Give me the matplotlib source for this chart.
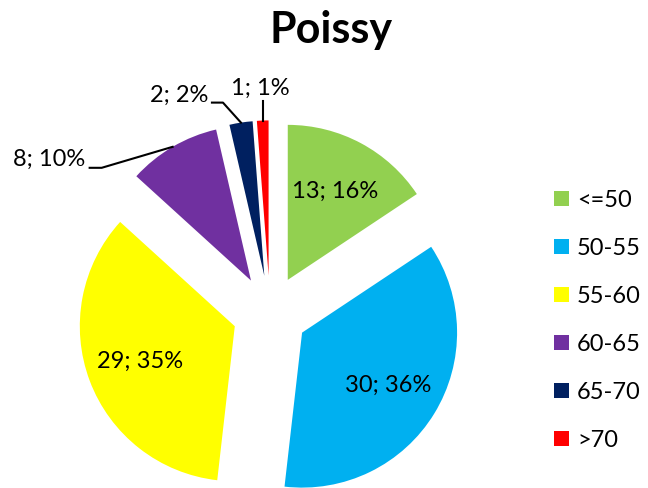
import numpy as np
import matplotlib
matplotlib.use("Agg")
import matplotlib.pyplot as plt

title = "Poissy"
categories = ["<=50", "50-55", "55-60", "60-65", "65-70", ">70"]
values = [13, 30, 29, 8, 2, 1]
colors = ["#92D050", "#00B0F0", "#FFFF00", "#7030A0", "#002060", "#FF0000"]

plt.rcParams['font.family'] = ['Lato', 'DejaVu Sans']

W, H = 648, 488
fig = plt.figure(figsize=(W / 100, H / 100), dpi=100)
ax = fig.add_axes([0, 0, 1, 1])
ax.set_xlim(0, W)
ax.set_ylim(0, H)
ax.set_aspect('equal')
ax.axis('off')

R = 155
center = (270, H - 313)
expl = 37.6
total = sum(values)
wedges, _ = ax.pie(values, colors=colors, startangle=90, counterclock=False,
                   radius=R, center=center, explode=[expl] * len(values),
                   wedgeprops=dict(linewidth=0))
ax.set_xlim(0, W)
ax.set_ylim(0, H)

labels = [f"{v}; {round(100 * v / total)}%" for v in values]
fs = 17

for i, (w, lab) in enumerate(zip(wedges, labels)):
    cx, cy = w.center
    mid = np.deg2rad((w.theta1 + w.theta2) / 2)
    if i < 3:
        d = 0.65 * R
        ax.text(cx + d * np.cos(mid), cy + d * np.sin(mid), lab, fontsize=fs,
                ha='center', va='center', color='black')
    else:
        ax_pt = (cx + R * np.cos(mid), cy + R * np.sin(mid))
        if i == 3:
            elbow = (ax_pt[0] - 71, ax_pt[1] - 21)
            end = (elbow[0] - 12, elbow[1])
            ax.plot([ax_pt[0], elbow[0], end[0]], [ax_pt[1], elbow[1], end[1]],
                    color='black', lw=1.5)
            ax.text(end[0] - 4, end[1] + 8, lab, fontsize=fs, ha='right', va='center')
        elif i == 4:
            elbow = (ax_pt[0] - 18, ax_pt[1] + 20)
            end = (elbow[0] - 11, elbow[1])
            ax.plot([ax_pt[0], elbow[0], end[0]], [ax_pt[1], elbow[1], end[1]],
                    color='black', lw=1.5)
            ax.text(end[0] - 4, end[1] + 7, lab, fontsize=fs, ha='right', va='center')
        else:
            end = (ax_pt[0], ax_pt[1] + 20)
            ax.plot([ax_pt[0], end[0]], [ax_pt[1], end[1]], color='black', lw=1.5)
            ax.text(end[0] - 2, end[1] + 12, lab, fontsize=fs, ha='center', va='center')

fig.text(331 / W, 1 - 43 / H, title, fontsize=31, fontweight='bold',
         ha='center', va='baseline')

leg = fig.legend(wedges, categories, loc='upper left',
                 bbox_to_anchor=(554 / W, 1 - 190 / H), frameon=False,
                 fontsize=fs, handlelength=0.62, handleheight=0.62,
                 handletextpad=0.35, labelspacing=1.14, borderpad=0,
                 borderaxespad=0)

fig.savefig("out.png", dpi=100)
